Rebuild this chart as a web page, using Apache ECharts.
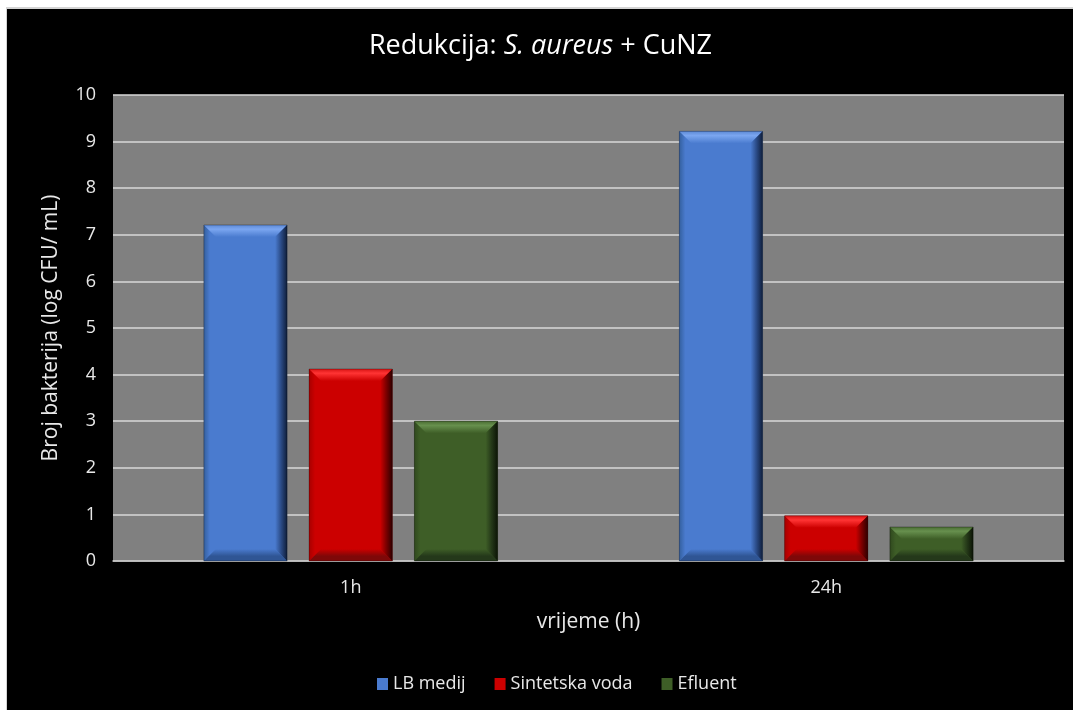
<!DOCTYPE html>
<html>
<head>
<meta charset="utf-8">
<script src="https://cdn.jsdelivr.net/npm/echarts@6/dist/echarts.min.js"></script>
<style>
html,body{margin:0;padding:0;background:#ffffff;width:1073px;height:710px;overflow:hidden;}
#frame{position:absolute;left:6px;top:7px;width:1067px;height:703px;border-top:2px solid #d4d4d4;border-left:1px solid #d4d4d4;background:#000;}
#chart{position:absolute;left:0;top:0;width:1067px;height:703px;}
</style>
</head>
<body>
<div id="frame"><div id="chart"></div></div>
<script>
const categories = ['1h', '24h'];
const seriesNames = ['LB medij', 'Sintetska voda', 'Efluent'];
const lbMedij = [7.21, 9.22];
const sintetskaVoda = [4.12, 0.97];
const efluent = [3.0, 0.73];
const yTicks = [0, 10, 1];

const palettes = [
  {main:'#4a7bcf', topEdge:'#5e8ad6', topMid:'#7ba6f0', bottom:'#2f5594', left:'#34609f', right:'#0f1e3a', rightMid:'#2a4a85'},
  {main:'#cc0000', topEdge:'#d81414', topMid:'#ff3434', bottom:'#7e0808', left:'#a80000', right:'#2e0000', rightMid:'#7a0000'},
  {main:'#3e5e27', topEdge:'#4a6d33', topMid:'#67904e', bottom:'#24381a', left:'#30491e', right:'#0c1406', rightMid:'#243818'}
];

function lg(x, y, x2, y2, stops){
  return new echarts.graphic.LinearGradient(x, y, x2, y2, stops.map(s => ({offset:s[0], color:s[1]})));
}

function makeRender(si){
  const p = palettes[si];
  return function(params, api){
    const cat = api.value(0), val = api.value(1);
    const catW = api.size([1,0])[0];
    const bw = catW * 0.175;
    const gap = bw * 0.265;
    const top = api.coord([cat, val]);
    const base = api.coord([cat, 0]);
    const cx = top[0] + (si - 1) * (bw + gap);
    const x0 = cx - bw/2, x1 = cx + bw/2;
    const y0 = top[1], y1 = base[1];
    const h = y1 - y0;
    const b = Math.min(12, h/2, bw/2);
    return {
      type:'group',
      children:[
        {type:'rect', shape:{x:x0,y:y0,width:bw,height:h}, style:{fill:p.main}},
        {type:'polygon', shape:{points:[[x0,y0],[x0+b,y0+b],[x0+b,y1-b],[x0,y1]]},
          style:{fill:lg(0,0,1,0,[[0,p.left],[0.5,p.main],[1,p.main]])}},
        {type:'polygon', shape:{points:[[x0,y1],[x1,y1],[x1-b,y1-b],[x0+b,y1-b]]},
          style:{fill:lg(0,0,0,1,[[0,p.main],[0.6,p.bottom],[1,p.bottom]])}},
        {type:'polygon', shape:{points:[[x0,y0],[x1,y0],[x1-b,y0+b],[x0+b,y0+b]]},
          style:{fill:lg(0,0,0,1,[[0,p.topEdge],[0.35,p.topMid],[1,p.main]])}},
        {type:'polygon', shape:{points:[[x1,y0],[x1-b,y0+b],[x1-b,y1-b],[x1,y1]]},
          style:{fill:lg(0,0,1,0,[[0,p.main],[0.5,p.rightMid],[1,p.right]])}},
        {type:'rect', shape:{x:x0,y:y0,width:bw,height:h}, style:{fill:'none',stroke:'rgba(0,0,0,0.3)',lineWidth:1}}
      ]
    };
  };
}

const allValues = [lbMedij, sintetskaVoda, efluent];
const FONT = '"Open Sans", "Noto Sans", sans-serif';
const TXT = '#e8e8e8';

const chart = echarts.init(document.getElementById('chart'), null, {renderer:'canvas'});
chart.setOption({
  backgroundColor:'#000000',
  animation:false,
  textStyle:{fontFamily:FONT},
  title:{
    left:'center', top:19,
    text:'{a|Redukcija: }{b|S. aureus}{a| + CuNZ}',
    textStyle:{
      fontWeight:'normal',
      rich:{
        a:{fontSize:27, color:'#ffffff', fontFamily:FONT, fontWeight:'normal'},
        b:{fontSize:27, color:'#ffffff', fontFamily:FONT, fontStyle:'italic', fontWeight:'normal'}
      }
    }
  },
  legend:{
    bottom:14, left:365,
    icon:'rect', itemWidth:11, itemHeight:12, itemGap:29,
    textStyle:{color:TXT, fontSize:18, fontFamily:FONT},
    data:seriesNames
  },
  grid:{left:106, top:86, right:10, bottom:151, backgroundColor:'#808080', show:true, borderWidth:0},
  xAxis:{
    type:'category', data:categories,
    axisLine:{show:true, lineStyle:{color:'#c0c0c0', width:1.5}},
    axisTick:{show:false},
    axisLabel:{color:TXT, fontSize:18, margin:18, fontFamily:FONT},
    name:'vrijeme (h)', nameLocation:'middle', nameGap:51,
    nameTextStyle:{color:TXT, fontSize:21, fontFamily:FONT}
  },
  yAxis:{
    type:'value', min:yTicks[0], max:yTicks[1], interval:yTicks[2],
    axisLine:{show:false}, axisTick:{show:false},
    axisLabel:{color:TXT, fontSize:18, margin:17, fontFamily:FONT},
    splitLine:{lineStyle:{color:'#d9d9d9', width:1.5}},
    name:'Broj bakterija (log CFU/ mL)', nameLocation:'middle', nameGap:51, nameRotate:90,
    nameTextStyle:{color:TXT, fontSize:21, fontFamily:FONT}
  },
  series: seriesNames.map((n, si) => ({
    name:n, type:'custom',
    itemStyle:{color:palettes[si].main},
    encode:{x:0, y:1},
    renderItem:makeRender(si),
    data: allValues[si].map((v, i) => [i, v])
  }))
});
</script>
</body>
</html>
